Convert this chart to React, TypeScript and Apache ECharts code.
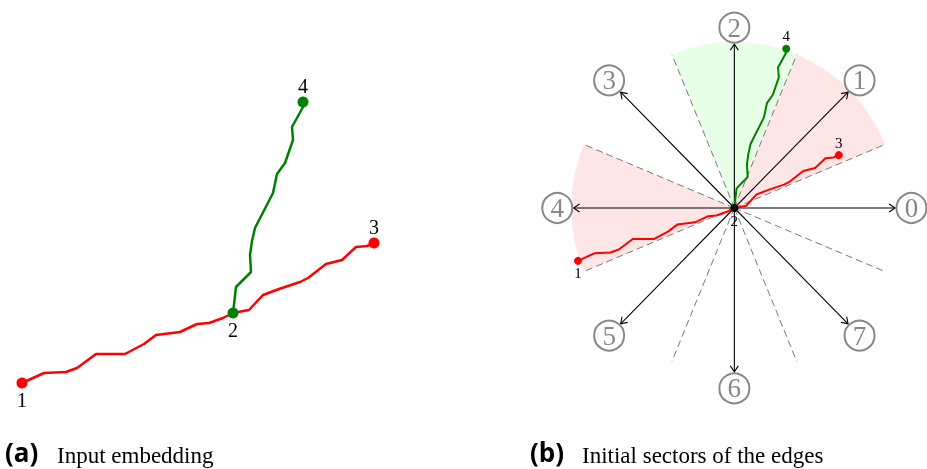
import React, { useEffect, useRef } from "react";
import * as echarts from "echarts";

// Edge paths (units relative to node 2)
const redX = [-211, -189, -167, -156, -137, -108, -89, -77, -53, -36, -24, -10, 0, 16, 30, 46, 67, 75, 93, 109, 123, 134, 141];
const redY = [-70, -60, -59, -55, -41, -41, -31, -22, -19, -11, -10, -5, 0, 3, 18, 24, 31, 35, 49, 53, 66, 67, 70];
const greenX = [0, 3, 18, 17, 19, 22, 40, 44, 52, 60, 59, 70, 70];
const greenY = [0, 26, 41, 58, 72, 85, 120, 139, 150, 173, 186, 206, 211];

// Nodes
const nodeIds = ["1", "2", "3", "4"];
const nodeX = [-211, 0, 141, 70];
const nodeY = [-70, 0, 70, 211];
const nodeColorA = ["#ff0000", "#008000", "#ff0000", "#008000"];
const nodeColorB = ["#ff0000", "#000000", "#ff0000", "#008000"];
const nodeLabelPos = ["bottom", "bottom", "top", "top"];

// Directions and sectors (degrees)
const dirAngles = [0, 45, 90, 135, 180, 225, 270, 315];
const dirLabels = ["0", "1", "2", "3", "4", "5", "6", "7"];
const boundaryAngles = [22.5, 67.5, 112.5, 157.5, 202.5, 247.5, 292.5, 337.5];
const sectorStart = [22.5, 67.5, 157.5];
const sectorEnd = [67.5, 112.5, 202.5];
const sectorFill = ["#ffe6e6", "#e6ffe6", "#ffe6e6"];

const ARROW_LEN = 217;
const RAY_LEN = 220;
const CIRCLE_R = 239;

const rad = (d: number) => (d * Math.PI) / 180;

export default function App() {
  const ref = useRef<HTMLDivElement>(null);
  useEffect(() => {
    const chart = echarts.init(ref.current!, null, { renderer: "svg" });
    const redPts = redX.map((x, i) => [x, redY[i]]);
    const greenPts = greenX.map((x, i) => [x, greenY[i]]);
    const serif = "Liberation Serif";

    const nodeData = (colors: string[], size: number) =>
      nodeIds.map((id, i) => ({
        value: [nodeX[i], nodeY[i], id],
        symbolSize: size,
        itemStyle: { color: colors[i], opacity: 1 },
        label: { position: nodeLabelPos[i] },
      }));

    const option: any = {
      animation: false,
      grid: [
        { left: 3, top: 83, width: 400, height: 320 },
        { left: 541.7, top: 11.7, width: 392.6, height: 392.6 },
      ],
      xAxis: [
        { type: "value", gridIndex: 0, min: -230, max: 170, show: false },
        { type: "value", gridIndex: 1, min: -260, max: 260, show: false },
      ],
      yAxis: [
        { type: "value", gridIndex: 0, min: -90, max: 230, show: false },
        { type: "value", gridIndex: 1, min: -260, max: 260, show: false },
      ],
      series: [
        // Panel (a)
        {
          type: "line", xAxisIndex: 0, yAxisIndex: 0, data: redPts, symbol: "none",
          lineStyle: { color: "#ff0000", width: 2.5 }, z: 3,
        },
        {
          type: "line", xAxisIndex: 0, yAxisIndex: 0, data: greenPts, symbol: "none",
          lineStyle: { color: "#008000", width: 2.5 }, z: 3,
        },
        {
          type: "scatter", xAxisIndex: 0, yAxisIndex: 0, z: 4,
          data: nodeData(nodeColorA, 11),
          label: {
            show: true, formatter: (p: any) => p.value[2], distance: 1,
            fontFamily: serif, fontSize: 20, color: "#000",
          },
        },
        // Panel (b): sectors
        {
          type: "custom", xAxisIndex: 1, yAxisIndex: 1, z: 1,
          data: sectorStart.map((s, i) => [s, sectorEnd[i]]),
          renderItem: (params: any, api: any) => {
            const a1 = api.value(0), a2 = api.value(1);
            const pts: number[][] = [api.coord([0, 0])];
            for (let a = a1; a <= a2 + 1e-6; a += 1) {
              pts.push(api.coord([RAY_LEN * Math.cos(rad(a)), RAY_LEN * Math.sin(rad(a))]));
            }
            return {
              type: "polygon", shape: { points: pts },
              style: { fill: sectorFill[params.dataIndex], stroke: "none" },
            };
          },
        },
        // dashed boundary rays
        {
          type: "custom", xAxisIndex: 1, yAxisIndex: 1, z: 2,
          data: boundaryAngles.map((a) => [a, RAY_LEN]),
          renderItem: (params: any, api: any) => {
            const a = api.value(0), r = api.value(1);
            const c = api.coord([0, 0]);
            const t = api.coord([r * Math.cos(rad(a)), r * Math.sin(rad(a))]);
            return {
              type: "line", shape: { x1: c[0], y1: c[1], x2: t[0], y2: t[1] },
              style: { stroke: "#777", lineWidth: 1, lineDash: [7, 4] },
            };
          },
        },
        // direction arrows
        {
          type: "custom", xAxisIndex: 1, yAxisIndex: 1, z: 3,
          data: dirAngles.map((a) => [a, ARROW_LEN]),
          renderItem: (params: any, api: any) => {
            const a = api.value(0), r = api.value(1);
            const c = api.coord([0, 0]);
            const t = api.coord([r * Math.cos(rad(a)), r * Math.sin(rad(a))]);
            const dx = t[0] - c[0], dy = t[1] - c[1];
            const L = Math.sqrt(dx * dx + dy * dy);
            const ux = dx / L, uy = dy / L;
            const px = -uy, py = ux;
            const back = 6, half = 4;
            return {
              type: "group",
              children: [
                {
                  type: "line", shape: { x1: c[0], y1: c[1], x2: t[0], y2: t[1] },
                  style: { stroke: "#000", lineWidth: 1.1 },
                },
                {
                  type: "polyline",
                  shape: {
                    points: [
                      [t[0] - back * ux + half * px, t[1] - back * uy + half * py],
                      [t[0], t[1]],
                      [t[0] - back * ux - half * px, t[1] - back * uy - half * py],
                    ],
                  },
                  style: { stroke: "#000", lineWidth: 1.1, fill: "none" },
                },
              ],
            };
          },
        },
        // direction circles
        {
          type: "scatter", xAxisIndex: 1, yAxisIndex: 1, z: 4,
          data: dirAngles.map((a, i) => [CIRCLE_R * Math.cos(rad(a)), CIRCLE_R * Math.sin(rad(a)), dirLabels[i]]),
          symbolSize: 30,
          itemStyle: { color: "#fff", borderColor: "#888", borderWidth: 2, opacity: 1 },
          label: {
            show: true, position: "inside", formatter: (p: any) => p.value[2],
            fontFamily: serif, fontSize: 27, color: "#888",
          },
        },
        // paths in (b)
        {
          type: "line", xAxisIndex: 1, yAxisIndex: 1, data: redPts, symbol: "none",
          lineStyle: { color: "#ff0000", width: 2 }, z: 5,
        },
        {
          type: "line", xAxisIndex: 1, yAxisIndex: 1, data: greenPts, symbol: "none",
          lineStyle: { color: "#008000", width: 2 }, z: 5,
        },
        {
          type: "scatter", xAxisIndex: 1, yAxisIndex: 1, z: 6,
          data: nodeData(nodeColorB, 8),
          label: {
            show: true, formatter: (p: any) => p.value[2], distance: 1,
            fontFamily: serif, fontSize: 15, color: "#000",
          },
        },
      ],
      graphic: [
        {
          type: "text", x: 5, y: 452,
          style: { text: "(a)", fontFamily: "Open Sans", fontWeight: "bold", fontSize: 26, fill: "#000", verticalAlign: "middle" },
        },
        {
          type: "text", x: 57, y: 455,
          style: { text: "Input embedding", fontFamily: serif, fontSize: 23, fill: "#000", verticalAlign: "middle" },
        },
        {
          type: "text", x: 530, y: 452,
          style: { text: "(b)", fontFamily: "Open Sans", fontWeight: "bold", fontSize: 26, fill: "#000", verticalAlign: "middle" },
        },
        {
          type: "text", x: 582, y: 455,
          style: { text: "Initial sectors of the edges", fontFamily: serif, fontSize: 23, fill: "#000", verticalAlign: "middle" },
        },
      ],
    };
    chart.setOption(option);
    return () => chart.dispose();
  }, []);
  return <div ref={ref} style={{ position: "fixed", left: 0, top: 0, width: 927, height: 469 }} />;
}
